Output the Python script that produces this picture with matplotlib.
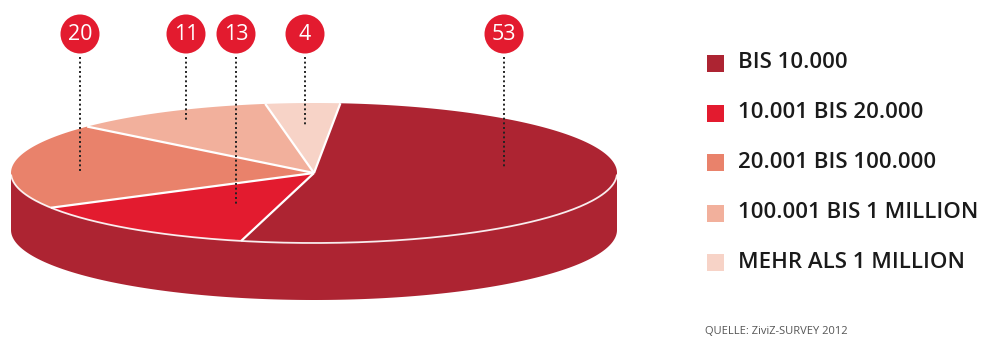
import numpy as np
import matplotlib
matplotlib.use("Agg")
import matplotlib.pyplot as plt
from matplotlib.patches import Polygon, Circle, Rectangle

# ---- data ----
categories = ["BIS 10.000", "10.001 BIS 20.000", "20.001 BIS 100.000",
              "100.001 BIS 1 MILLION", "MEHR ALS 1 MILLION"]
values = [53, 13, 20, 11, 4]
source = "QUELLE: ZiviZ-SURVEY 2012"

# ---- style ----
colors = ["#AD2432", "#E31B2F", "#E9826B", "#F2B09C", "#F7D3C7"]
side_color = "#AD2432"
callout_color = "#E31B2F"
# callout positions (x of circle, y end of dotted line), pixel coords
callout_x = [504, 236, 80, 186, 305]
callout_end = [167, 206, 173, 121, 127]
callout_y = 34
start_angle = 85.0  # degrees, slices go clockwise

cx, cy, a, b, depth = 314, 173, 303, 70, 57

W, H = 989, 345
fig = plt.figure(figsize=(W / 100, H / 100), dpi=100)
ax = fig.add_axes([0, 0, 1, 1])
ax.set_xlim(0, W)
ax.set_ylim(H, 0)
ax.axis("off")


def pt(t_deg, dy=0.0):
    t = np.radians(t_deg)
    return cx + a * np.cos(t), cy - b * np.sin(t) + dy


# side wall (front half)
ts = np.linspace(180, 360, 200)
top = np.array([pt(t) for t in ts])
bot = np.array([pt(t, depth) for t in ts[::-1]])
ax.add_patch(Polygon(np.vstack([top, bot]), closed=True, fc=side_color,
                     ec="none", zorder=1))

# top slices
total = float(sum(values))
ang = start_angle
bounds = []
for v, c in zip(values, colors):
    span = 360.0 * v / total
    t = np.linspace(ang, ang - span, max(int(span * 2), 4))
    arc = np.array([pt(x) for x in t])
    poly = np.vstack([[cx, cy], arc])
    ax.add_patch(Polygon(poly, closed=True, fc=c, ec="none", zorder=2))
    bounds.append(ang)
    ang -= span

# white slice boundaries
for t in bounds:
    x, y = pt(t)
    ax.plot([cx, x], [cy, y], color="white", lw=1.6, zorder=3,
            solid_capstyle="butt")
# white front rim of the top face
rim = np.array([pt(t) for t in np.linspace(182, 358, 200)])
ax.plot(rim[:, 0], rim[:, 1], color="white", lw=1.3, alpha=0.9, zorder=3)

# callouts
for v, x, ye in zip(values, callout_x, callout_end):
    ax.plot([x, x], [callout_y + 23, ye], color="#222222", lw=1.4,
            linestyle=(0, (1, 1.4)), zorder=4)
    ax.add_patch(Circle((x, callout_y), 19.5, fc=callout_color, ec="none",
                        zorder=5))
    ax.text(x, callout_y + 1, str(v), color="white", fontsize=15.5,
            family="Open Sans", ha="center", va="center", zorder=6)

# legend
leg_y = [63, 113, 162, 213, 262]
for lab, c, y in zip(categories, colors, leg_y):
    ax.add_patch(Rectangle((707, y - 8.5), 17, 17, fc=c, ec="none"))
    ax.text(738, y, lab, fontsize=16, family="Open Sans", fontweight="semibold",
            color="#1a1a1a", ha="left", va="center")

ax.text(705, 331, source, fontsize=8, family="Open Sans", color="#555555",
        ha="left", va="center")

fig.savefig("out.png", dpi=100, facecolor="white")
